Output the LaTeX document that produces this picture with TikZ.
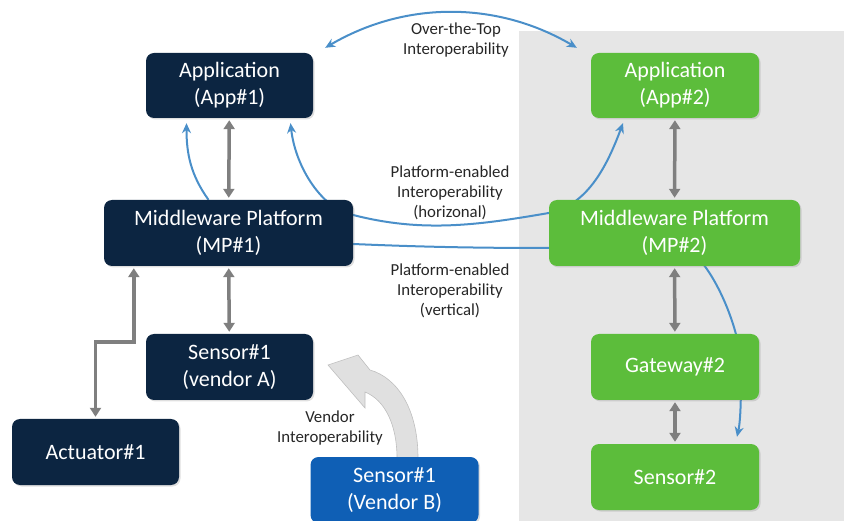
\documentclass[tikz,border=0pt]{standalone}
\usepackage{fontspec}
\setmainfont{Carlito}
\usetikzlibrary{arrows.meta,backgrounds,shadows}

\definecolor{navybox}{HTML}{0C2541}
\definecolor{greenbox}{HTML}{5CBD3B}
\definecolor{vendorblue}{HTML}{0F5FB5}
\definecolor{linkblue}{HTML}{4A8FC9}
\definecolor{panelgray}{HTML}{E6E6E6}
\definecolor{stackgray}{HTML}{7F7F7F}
\definecolor{notegray}{HTML}{262626}

\tikzset{
    box/.style = {rounded corners=8pt, text=white, align=center, inner sep=0pt,
        font=\fontsize{22}{27}\selectfont,
        drop shadow={opacity=0.25, shadow xshift=1.5pt, shadow yshift=-1.5pt}},
    oldbox/.style = {box, fill=navybox},
    newbox/.style = {box, fill=greenbox},
    vendorbox/.style = {box, fill=vendorblue},
    note/.style = {align=center, text=notegray, font=\fontsize{16.8}{20}\selectfont},
    stacktip/.tip = {Triangle[width=11pt,length=9pt]},
    linktip/.tip = {Stealth[length=10pt,width=9pt]},
    stackarrow/.style = {draw=stackgray, line width=3.5pt, stacktip-stacktip,
        shorten <=2pt, shorten >=2pt},
    link/.style = {draw=linkblue, line width=2pt}
}

\begin{document}
\begin{tikzpicture}[x=1pt, y=-1pt]
    \useasboundingbox (0,0) rectangle (844,521);

    \node[oldbox, minimum width=167pt, minimum height=65pt] (app1) at (229.5,85.5) {Application\\(App\#1)};
    \node[oldbox, minimum width=249pt, minimum height=66pt] (mp1) at (228.5,233) {Middleware Platform\\(MP\#1)};
    \node[oldbox, minimum width=167pt, minimum height=66pt] (sensa) at (229.5,367) {Sensor\#1\\(vendor A)};
    \node[oldbox, minimum width=167pt, minimum height=66pt] (act) at (95.5,452) {Actuator\#1};
    \node[vendorbox, minimum width=168pt, minimum height=66pt] (sensb) at (394.5,490) {Sensor\#1\\(Vendor B)};

    \node[newbox, minimum width=168pt, minimum height=65pt] (app2) at (675,85.5) {Application\\(App\#2)};
    \node[newbox, minimum width=251pt, minimum height=66pt] (mp2) at (674.5,233) {Middleware Platform\\(MP\#2)};
    \node[newbox, minimum width=168pt, minimum height=66pt] (gw) at (675,367) {Gateway\#2};
    \node[newbox, minimum width=168pt, minimum height=66pt] (sens2) at (675,477) {Sensor\#2};

    \node[note] (ott) at (456,40) {Over-the-Top\\Interoperability};
    \node[note] (peh) at (450,193) {Platform-enabled\\Interoperability\\(horizonal)};
    \node[note] (pev) at (450,291) {Platform-enabled\\Interoperability\\(vertical)};
    \node[note] (vi) at (330,428) {Vendor\\Interoperability};

    \coordinate (jog) at (115,342);

    \draw[stackarrow] (app1) -- (mp1);
    \draw[stackarrow] (mp1) -- (sensa);
    \draw[stackarrow] ([xshift=30pt]mp1.south west) |- (jog) -| (act.north);
    \draw[stackarrow] (app2) -- (mp2);
    \draw[stackarrow] (mp2) -- (gw);
    \draw[stackarrow] (gw) -- (sens2);

    \begin{scope}[on background layer]
        \fill[panelgray] (519,31) rectangle (846,523);

        \draw[link, linktip-linktip] ([xshift=12pt,yshift=5pt]app1.north east)
            .. controls +(80,-47) and +(-80,-47) .. ([xshift=-14pt,yshift=5pt]app2.north west);
        \draw[link, -linktip] ([xshift=-20pt]mp1.north)
            .. controls +(-18,-25) and +(0,30) .. ([xshift=-43pt,yshift=-5pt]app1.south);
        \draw[link, linktip-linktip] ([xshift=61pt,yshift=-5pt]app1.south)
            .. controls +(5,45) and +(-30,-5) .. ([yshift=18pt]mp1.east)
            .. controls +(70,18) and +(-70,12) .. ([yshift=20pt]mp2.west)
            .. controls +(40,-8) and +(-15,40) .. ([xshift=-52pt,yshift=-5pt]app2.south);
        \draw[link, -linktip] ([yshift=-11pt]mp1.east)
            .. controls +(70,3) and +(-70,0) .. ([yshift=-15pt]mp2.west)
            -- ([xshift=28pt,yshift=3pt]mp2.south)
            .. controls +(20,25) and +(0,-30) .. ([xshift=66pt]gw.center)
            .. controls +(0,25) and +(4,-18) .. ([xshift=62pt,yshift=7pt]sens2.north);

        \filldraw[fill=black!12, draw=black!25, line width=0.6pt]
            (397,458) .. controls (397,425) and (385,400) .. (365,392)
            -- (365,408) -- (328,365) -- (358,355) -- (370,370)
            .. controls (398,378) and (418,410) .. (418,458) -- cycle;
    \end{scope}
\end{tikzpicture}
\end{document}
